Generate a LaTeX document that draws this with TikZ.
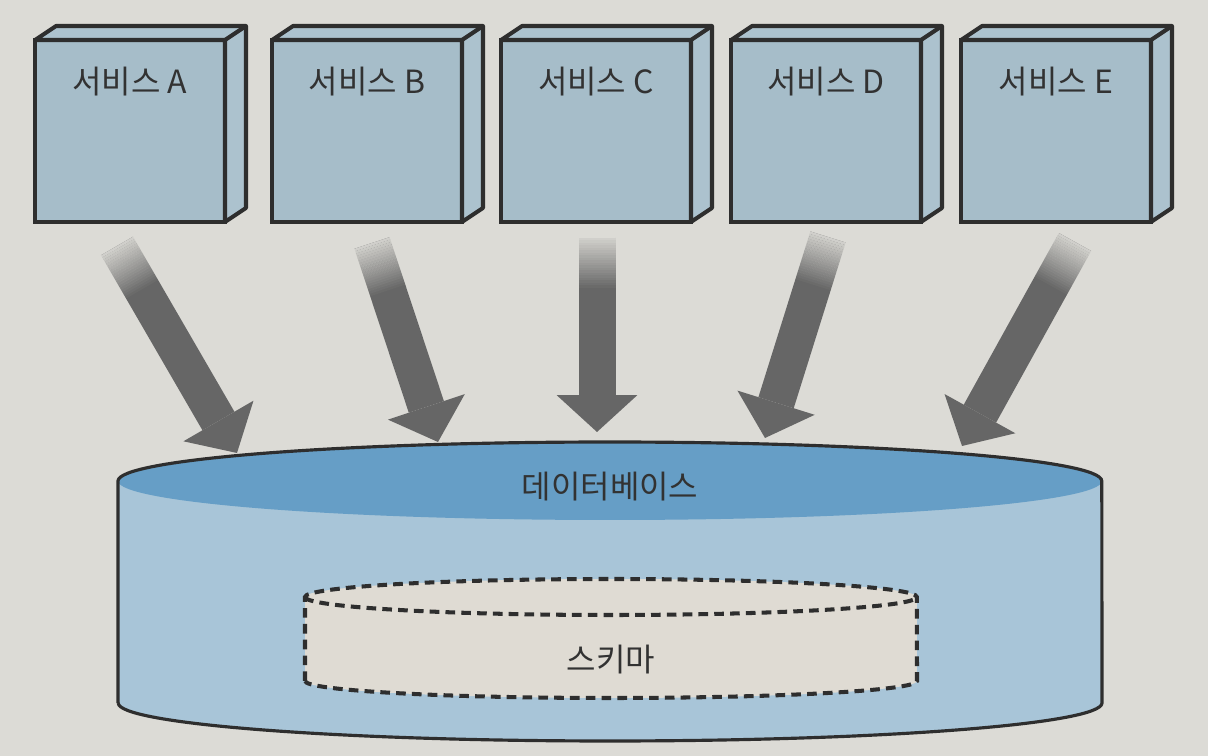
\documentclass[tikz,border=0pt]{standalone}
\usepackage{fontspec}
\usetikzlibrary{arrows.meta,calc}
\newfontfamily\krfont{Noto Sans CJK KR}
\definecolor{paper}{RGB}{220,219,214}
\definecolor{boxfill}{RGB}{166,189,201}
\definecolor{boxside}{RGB}{172,194,206}
\definecolor{inkline}{RGB}{46,46,46}
\definecolor{dbtop}{RGB}{102,158,198}
\definecolor{dbside}{RGB}{168,197,216}
\definecolor{schemafill}{RGB}{223,219,211}
\definecolor{flowgray}{RGB}{102,102,102}
\definecolor{inktext}{RGB}{50,50,50}

\begin{document}
\begin{tikzpicture}[x=0.02cm,y=-0.02cm,
  svcbox/.style={draw=inkline,line width=2.3pt,fill=boxfill,minimum width=3.8cm,
    minimum height=3.64cm,inner sep=0pt,outer sep=0pt},
  svcdepth/.style={draw=inkline,line width=2.3pt,fill=boxside,line join=round},
  lbl/.style={font=\krfont\fontsize{18.2}{21}\selectfont,text=inktext},
  flow/.style={draw=flowgray,line width=0.74cm,
    -{Triangle[width=1.62cm,length=0.74cm,line width=0pt]}},
  fadeseg/.style={draw=paper,line width=0.8cm},
  dbline/.style={draw=inkline,line width=1.8pt,line join=round},
  schemaline/.style={draw=inkline,fill=schemafill,line width=2.3pt,
    dash pattern=on 5.5pt off 3.5pt}]
  \fill[paper] (0,0) rectangle (1208,756);

  \foreach \n/\cx in {A/130,B/367,C/596,D/826,E/1056}{
    \node[svcbox] (svc\n) at (\cx,131) {};
    \draw[svcdepth] (svc\n.north west) -- ++(21,-14)
      -- ([shift={(21,-14)}]svc\n.north east) -- ([shift={(21,-14)}]svc\n.south east)
      -- (svc\n.south east) -- (svc\n.north east) -- cycle;
    \draw[svcdepth] (svc\n.north east) -- ++(21,-14);
    \node[lbl] (lbl\n) at ([shift={(0,42)}]svc\n.north) {서비스 \n};
  }

  \coordinate (tA) at (117,246);  \coordinate (hA) at (237,453);
  \coordinate (tB) at (372,243);  \coordinate (hB) at (438,442);
  \coordinate (tC) at (597,238);  \coordinate (hC) at (597,432);
  \coordinate (tD) at (828,237);  \coordinate (hD) at (765,438);
  \coordinate (tE) at (1075,242); \coordinate (hE) at (962,446);
  \foreach \t/\h in {tA/hA,tB/hB,tC/hC,tD/hD,tE/hE}{
    \draw[flow] (\t) -- (\h);
    \foreach \i [evaluate=\i as \op using 0.9-0.045*\i] in {0,...,19}
      \draw[fadeseg,opacity=\op] ($(\t)!\i*0.05cm!(\h)$) -- ($(\t)!\i*0.05cm+0.05cm!(\h)$);
  }

  \fill[dbside] (118,481) -- (118,703)
    arc[start angle=180,end angle=360,x radius=9.84cm,y radius=0.76cm] -- (1102,481) -- cycle;
  \fill[dbtop] (610,481) ellipse [x radius=9.84cm,y radius=0.78cm];
  \draw[dbline] (118,703) -- (118,481)
    arc[start angle=180,end angle=0,x radius=9.84cm,y radius=0.78cm] -- (1102,703)
    arc[start angle=0,end angle=-180,x radius=9.84cm,y radius=0.76cm];
  \node[lbl] (db) at (610,487) {데이터베이스};

  \draw[schemaline] (305,681) -- (305,597)
    arc[start angle=180,end angle=0,x radius=6.12cm,y radius=0.36cm] -- (917,681)
    arc[start angle=0,end angle=-180,x radius=6.12cm,y radius=0.34cm] -- cycle;
  \draw[schemaline,fill=none] (305,597)
    arc[start angle=180,end angle=360,x radius=6.12cm,y radius=0.36cm];
  \node[lbl] (schema) at (611,660) {스키마};
\end{tikzpicture}
\end{document}
